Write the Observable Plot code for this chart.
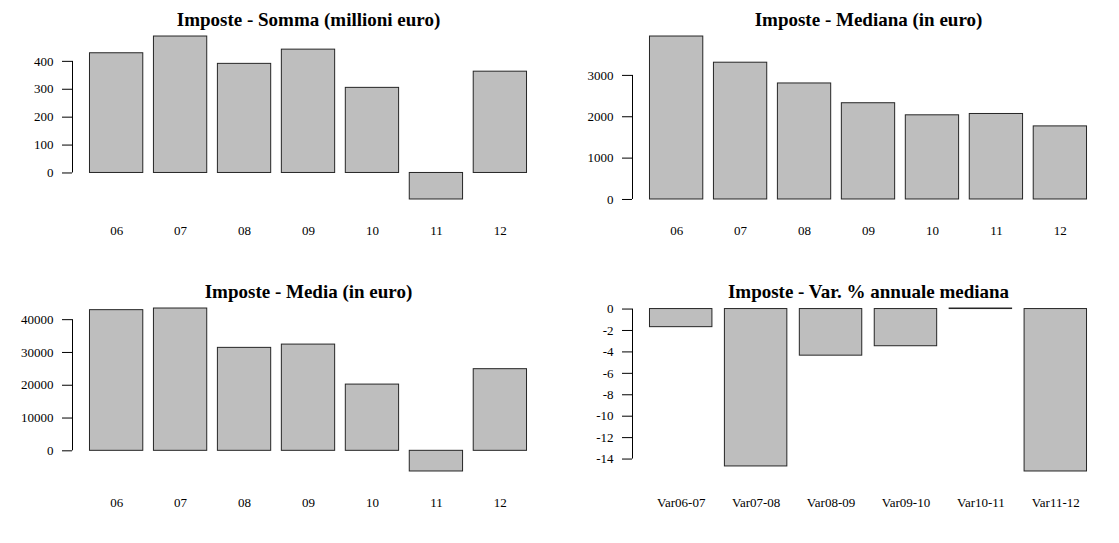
<!DOCTYPE html>
<html>
<head>
<meta charset="utf-8">
<script src="https://cdn.jsdelivr.net/npm/d3@7"></script>
<script src="https://cdn.jsdelivr.net/npm/@observablehq/plot@0.6"></script>
<style>
  html, body { margin: 0; padding: 0; background: #ffffff; }
  #wrap { position: relative; width: 1119px; height: 543px; overflow: hidden; background: #ffffff; }
  .panel { position: absolute; }
  .panel svg { display: block; }
  .panel svg text { font-family: "Liberation Serif", "Times New Roman", Times, serif; font-variant-numeric: normal; }
</style>
</head>
<body>
<div id="wrap"></div>
<script>
// ---- data ----
const years = ["06", "07", "08", "09", "10", "11", "12"];
const sommaValues = [429, 489, 391, 442, 305, -95, 363];
const medianaValues = [3940, 3307, 2805, 2327, 2035, 2067, 1767];
const mediaValues = [42900, 43400, 31400, 32400, 20200, -6300, 24900];
const varLabels = ["Var06-07", "Var07-08", "Var08-09", "Var09-10", "Var10-11", "Var11-12"];
const varValues = [-1.69, -14.69, -4.35, -3.47, 0.05, -15.16];

const sommaTicks = [0, 100, 200, 300, 400];
const medianaTicks = [0, 1000, 2000, 3000];
const mediaTicks = [0, 10000, 20000, 30000, 40000];
const varTicks = [0, -2, -4, -6, -8, -10, -12, -14];

const titles = [
  "Imposte - Somma (millioni euro)",
  "Imposte - Mediana (in euro)",
  "Imposte - Media (in euro)",
  "Imposte - Var. % annuale mediana"
];

// ---- layout ----
const FONT = '"Liberation Serif", "Times New Roman", Times, serif';
const plotTop = 29.5, plotH = 176, mLeft = 72;

function panel(cats, values, ticks, title, W, H, mRight) {
  const n = cats.length;
  const lo = Math.min(0, d3.min(values)), hi = Math.max(0, d3.max(values));
  const ext = (hi - lo) * 0.04;
  const data = cats.map((c, i) => ({cat: c, value: values[i]}));
  const plotW = W - mLeft - mRight;
  return Plot.plot({
    width: W,
    height: H,
    marginLeft: mLeft,
    marginRight: mRight,
    marginTop: plotTop,
    marginBottom: H - plotTop - plotH,
    style: {fontFamily: FONT, fontSize: "13px", color: "black", background: "white", overflow: "visible"},
    x: {type: "band", domain: cats, paddingInner: 1 / 6, paddingOuter: 0.04 * (1.2 * n - 0.2) / 1.2, align: 0.5, round: false},
    y: {type: "linear", domain: [lo - ext, hi + ext], nice: false},
    marks: [
      Plot.barY(data, {x: "cat", y1: 0, y2: "value", fill: "#BEBEBE", stroke: "#262626", strokeWidth: 1}),
      Plot.axisY({ticks: ticks, tickSize: 10, tickPadding: 9, tickFormat: d => String(d), fontSize: 13, fontFamily: FONT, label: null, stroke: "black"}),
      Plot.ruleX([ticks], {x: null, y1: d => d3.min(d), y2: d => d3.max(d), dx: -plotW / 2, stroke: "black"}),
      Plot.axisX({tickSize: 0, tickPadding: 20, fontSize: 13, fontFamily: FONT, label: null}),
      Plot.text([title], {frameAnchor: "top", dy: -10.5, lineAnchor: "middle", text: d => d, fontSize: 19, fontWeight: "bold", fontFamily: FONT, fill: "black"})
    ]
  });
}

const wrap = document.getElementById("wrap");
const specs = [
  {cats: years, values: sommaValues, ticks: sommaTicks, title: titles[0], left: 0, top: 0, W: 560, H: 272, mR: 16},
  {cats: years, values: medianaValues, ticks: medianaTicks, title: titles[1], left: 560, top: 0, W: 559, H: 272, mR: 15},
  {cats: years, values: mediaValues, ticks: mediaTicks, title: titles[2], left: 0, top: 272, W: 560, H: 271, mR: 16},
  {cats: varLabels, values: varValues, ticks: varTicks, title: titles[3], left: 560, top: 272, W: 559, H: 271, mR: 15}
];
for (const s of specs) {
  const div = document.createElement("div");
  div.className = "panel";
  div.style.left = s.left + "px";
  div.style.top = s.top + "px";
  div.appendChild(panel(s.cats, s.values, s.ticks, s.title, s.W, s.H, s.mR));
  wrap.appendChild(div);
}
</script>
</body>
</html>
